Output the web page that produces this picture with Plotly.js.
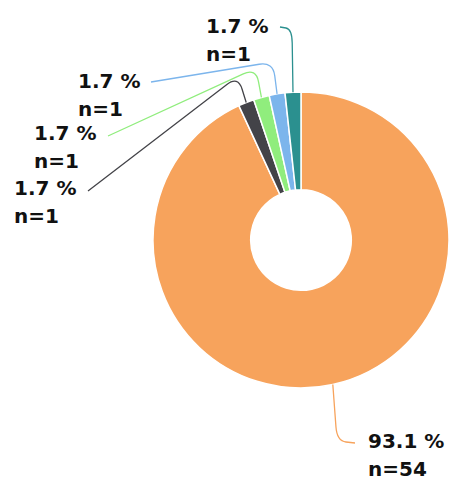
<!DOCTYPE html>
<html>
<head>
<meta charset="utf-8">
<script src="https://cdn.plot.ly/plotly-3.0.1.min.js"></script>
<style>html,body{margin:0;padding:0;background:#fff;}#chart{width:449px;height:481px;}</style>
</head>
<body>
<div id="chart"></div>
<script>
// ---- data ----
const categories = ['Category A', 'Category B', 'Category C', 'Category D', 'Category E'];
const counts = [54, 1, 1, 1, 1];
const colors = ['#f7a35c', '#434348', '#90ed7d', '#7cb5ec', '#2b908f'];

// ---- label layout (pixels): left x of text, baseline of first line ----
const labelLeft = [366, 12, 32, 76, 204];
const labelBase = [447, 194, 139, 87, 32];
// connector start point and corner (pixels)
const connStart = [[355, 443], [88, 191], [108, 136], [151, 82], [280, 27]];
const connCorner = [[337, 441], [238, 76], [256, 68], [273, 62], [292, 29]];

const W = 449, H = 481;
const cx = 301, cy = 240, R = 148;
const px = x => x / W;
const py = y => 1 - y / H;

const total = counts.reduce((a, b) => a + b, 0);
const annotations = [];
const shapes = [];
let cum = 0;
counts.forEach((v, i) => {
  const mid = (cum + v / 2) / total * 2 * Math.PI;
  cum += v;
  const end = [cx + R * Math.sin(mid), cy - R * Math.cos(mid)];
  const p0 = connStart[i], c = connCorner[i];
  const rr = 14;
  const d1 = Math.hypot(p0[0] - c[0], p0[1] - c[1]);
  const d2 = Math.hypot(end[0] - c[0], end[1] - c[1]);
  const a = [c[0] + (p0[0] - c[0]) * Math.min(rr, d1 / 2) / d1, c[1] + (p0[1] - c[1]) * Math.min(rr, d1 / 2) / d1];
  const b = [c[0] + (end[0] - c[0]) * Math.min(rr, d2 / 2) / d2, c[1] + (end[1] - c[1]) * Math.min(rr, d2 / 2) / d2];
  const P = p => px(p[0]).toFixed(5) + ',' + py(p[1]).toFixed(5);
  shapes.push({
    type: 'path', xref: 'paper', yref: 'paper',
    path: 'M' + P(p0) + ' L' + P(a) + ' Q' + P(c) + ' ' + P(b) + ' L' + P(end),
    line: {color: colors[i], width: 1.3}
  });
  const pct = (v / total * 100).toFixed(1) + ' %';
  const lines = [pct, 'n=' + v];
  lines.forEach((t, k) => {
    annotations.push({
      text: t, xref: 'paper', yref: 'paper',
      x: px(labelLeft[i]), y: py(labelBase[i] + 28 * k - 19.6),
      xanchor: 'left', yanchor: 'top', showarrow: false, align: 'left',
      font: {family: 'DejaVu Sans', size: 20, color: '#111', weight: 'bold'}
    });
  });
});

const trace = {
  type: 'pie',
  labels: categories,
  values: counts,
  sort: false,
  direction: 'clockwise',
  rotation: 0,
  hole: 0.34,
  textinfo: 'none',
  hoverinfo: 'label+value+percent',
  marker: {colors: colors, line: {color: '#ffffff', width: 1.5}},
  domain: {x: [(cx - R) / W, 1], y: [py(cy + R), py(cy - R)]},
  showlegend: false
};

Plotly.newPlot('chart', [trace], {
  width: W, height: H,
  margin: {l: 0, r: 0, t: 0, b: 0},
  paper_bgcolor: '#ffffff',
  showlegend: false,
  annotations: annotations,
  shapes: shapes
}, {displayModeBar: false, staticPlot: true});
</script>
</body>
</html>
